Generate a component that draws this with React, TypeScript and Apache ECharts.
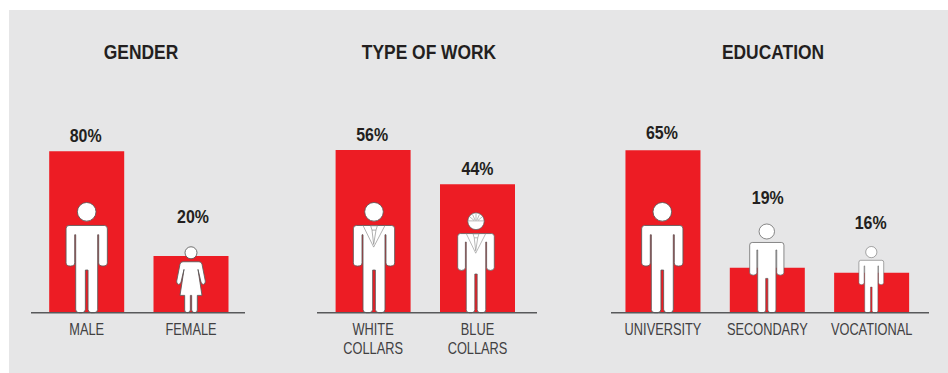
import React, { useEffect, useRef } from "react";
import * as echarts from "echarts";

// Titles
const panelTitles = ["GENDER", "TYPE OF WORK", "EDUCATION"];

// Categories
const genderCategories = ["MALE", "FEMALE"];
const workCategories = ["WHITE\nCOLLARS", "BLUE\nCOLLARS"];
const educationCategories = ["UNIVERSITY", "SECONDARY", "VOCATIONAL"];

// Printed shares (%)
const genderShares = [80, 20];
const workShares = [56, 44];
const educationShares = [65, 19, 16];

// Bar lengths as drawn in the picture (the source does not draw them strictly to scale)
const genderBars = [80, 28.1];
const workBars = [56, 44.2];
const educationBars = [65, 18, 16];

const RED = "#ed1c24";
const INK = "#231f20";
const GREY_TEXT = "#414042";
const OUTLINE = "#5a5a5a";
const BASE_Y = 312.7;
const SANS = '"Liberation Sans", Arial, sans-serif';

const head = "M28,-303 A28,28 0 1 0 -28,-303 A28,28 0 1 0 28,-303 Z ";
const manD =
  head +
  "M-53,-262 L53,-262 Q62,-262 62,-252 L62,-150 Q62,-140 49,-140 Q36,-140 36,-150 L36,-234 L33,-234 L33,-10 Q33,0 23,0 L14,0 Q5,0 4,-10 L4,-128 L-4,-128 L-4,-10 Q-5,0 -14,0 L-23,0 Q-33,0 -33,-10 L-33,-234 L-36,-234 L-36,-150 Q-36,-140 -49,-140 Q-62,-140 -62,-150 L-62,-252 Q-62,-262 -53,-262 Z";
const womanD =
  "M18,-180 A18,18 0 1 0 -18,-180 A18,18 0 1 0 18,-180 Z " +
  "M-24,-153 L24,-153 Q31,-153 33,-146 L43,-95 Q44,-86 37,-85 Q32,-85 30,-92 L21,-130 L33,-52 L19,-52 L19,-8 Q19,0 11,0 Q3,0 2,-8 L2,-52 L-2,-52 L-2,-8 Q-3,0 -11,0 Q-19,0 -19,-8 L-19,-52 L-33,-52 L-21,-130 L-30,-92 Q-32,-85 -37,-85 Q-44,-86 -43,-95 L-33,-146 Q-31,-153 -24,-153 Z";
const collarD =
  "M-33,-262 L-1,-197 L33,-262 M-10,-261 L10,-261 L6,-248 L-6,-248 Z M-6,-248 L-1,-205 L6,-248";
const helmetD =
  "M-28,-304 L28,-304 M0,-306 L0,-329 M-3,-306 L-12,-326 M3,-306 L12,-326 M-7,-306 L-23,-319 M7,-306 L23,-319";

echarts.graphic.registerShape("figMan", echarts.graphic.extendPath(manD, {}));
echarts.graphic.registerShape("figWoman", echarts.graphic.extendPath(womanD, {}));
echarts.graphic.registerShape("figCollar", echarts.graphic.extendPath(collarD, {}));
echarts.graphic.registerShape("figHelmet", echarts.graphic.extendPath(helmetD, {}));

const third = 1 / 3;
const body = (type: string, x: number, sx: number, sy: number) => ({
  type,
  x,
  y: BASE_Y,
  scaleX: sx,
  scaleY: sy,
  z: 20,
  silent: true,
  style: { fill: "#ffffff", stroke: OUTLINE, lineWidth: 2.6 },
});
const detail = (type: string, x: number, sx: number, sy: number) => ({
  type,
  x,
  y: BASE_Y,
  scaleX: sx,
  scaleY: sy,
  z: 21,
  silent: true,
  style: { fill: "none", stroke: "#8a8a8a", lineWidth: 2 },
});
const baseline = (x1: number, x2: number) => ({
  type: "line",
  z: 25,
  silent: true,
  shape: { x1, y1: BASE_Y, x2, y2: BASE_Y },
  style: { stroke: "#58595b", lineWidth: 1.5 },
});

const barSeries = (gridIndex: number, bars: number[]) => ({
  type: "bar",
  xAxisIndex: gridIndex,
  yAxisIndex: gridIndex,
  barWidth: 75,
  silent: true,
  itemStyle: { color: RED },
  data: bars,
});

// Condensed texts: no narrow face is installed, so a custom series places the
// percentage and category texts through the axes and squeezes them horizontally.
function textSeries(
  gridIndex: number,
  bars: number[],
  shares: number[],
  names: string[],
  gaps: number[],
  nudges: number[]
) {
  return {
    type: "custom",
    xAxisIndex: gridIndex,
    yAxisIndex: gridIndex,
    silent: true,
    z: 30,
    data: bars.map((v, i) => [i, v]),
    renderItem: (params: any, api: any) => {
      const i = params.dataIndex;
      const top = api.coord([i, bars[i]]);
      const base = api.coord([i, 0]);
      return {
        type: "group",
        children: [
          {
            type: "text",
            x: top[0] + nudges[i],
            y: top[1] - gaps[i],
            scaleX: 0.84,
            style: {
              text: `${shares[i]}%`,
              fill: INK,
              fontFamily: SANS,
              fontWeight: "bold",
              fontSize: 19,
              textAlign: "center",
              textVerticalAlign: "middle",
            },
          },
          {
            type: "text",
            x: base[0],
            y: base[1] + 7,
            scaleX: 0.8,
            style: {
              text: names[i],
              fill: GREY_TEXT,
              fontFamily: SANS,
              fontSize: 16,
              lineHeight: 19,
              textAlign: "center",
              textVerticalAlign: "top",
            },
          },
        ],
      };
    },
  };
}

const axisFor = (gridIndex: number, data: string[]) => ({
  type: "category",
  gridIndex,
  data,
  axisLine: { show: false },
  axisTick: { show: false },
  axisLabel: { show: false },
});
const valueAxisFor = (gridIndex: number) => ({
  type: "value",
  gridIndex,
  min: 0,
  max: 100,
  show: false,
});
const titleAt = (text: string, x: number) => ({
  type: "text",
  x,
  y: 52.5,
  scaleX: 0.87,
  z: 30,
  silent: true,
  style: {
    text,
    fill: INK,
    fontFamily: SANS,
    fontWeight: "bold",
    fontSize: 20,
    textAlign: "center",
    textVerticalAlign: "middle",
  },
});

export default function App() {
  const ref = useRef<HTMLDivElement>(null);
  useEffect(() => {
    const chart = echarts.init(ref.current!, undefined, { renderer: "svg" });
    chart.setOption({
      animation: false,
      backgroundColor: "#ffffff",
      grid: [
        { left: 34.55, width: 208.6, top: BASE_Y - 201.75, height: 201.75 },
        { left: 320.9, width: 208.8, top: BASE_Y - 290.5, height: 290.5 },
        { left: 610.8, width: 313, top: BASE_Y - 249.8, height: 249.8 },
      ],
      xAxis: [
        axisFor(0, genderCategories),
        axisFor(1, workCategories),
        axisFor(2, educationCategories),
      ],
      yAxis: [valueAxisFor(0), valueAxisFor(1), valueAxisFor(2)],
      series: [
        barSeries(0, genderBars),
        barSeries(1, workBars),
        barSeries(2, educationBars),
        textSeries(0, genderBars, genderShares, genderCategories, [15.3, 40], [-1, 2]),
        textSeries(1, workBars, workShares, workCategories, [16, 16], [-1, 0]),
        textSeries(2, educationBars, educationShares, educationCategories, [18, 70.5, 50.5], [-1, 0.5, -1]),
      ],
      graphic: {
        elements: [
          {
            type: "rect",
            z: -10,
            silent: true,
            shape: { x: 9, y: 10, width: 939, height: 363 },
            style: { fill: "#e6e6e7" },
          },
          titleAt(panelTitles[0], 141),
          titleAt(panelTitles[1], 429),
          titleAt(panelTitles[2], 773),
          baseline(31, 245),
          baseline(317, 537),
          baseline(611, 929),
          body("figMan", 86.7, third, third),
          body("figWoman", 191, third, third),
          body("figMan", 374, third, third),
          detail("figCollar", 374, third, third),
          body("figMan", 476, 0.295, 0.302),
          detail("figCollar", 476, 0.295, 0.302),
          detail("figHelmet", 476, 0.295, 0.302),
          body("figMan", 662.3, third, third),
          body("figMan", 766.8, 0.276, 0.268),
          body("figMan", 871.3, 0.2, 0.2),
        ],
      },
    });
    return () => chart.dispose();
  }, []);
  return (
    <div
      ref={ref}
      style={{ position: "absolute", left: 0, top: 0, width: 948, height: 373 }}
    />
  );
}
